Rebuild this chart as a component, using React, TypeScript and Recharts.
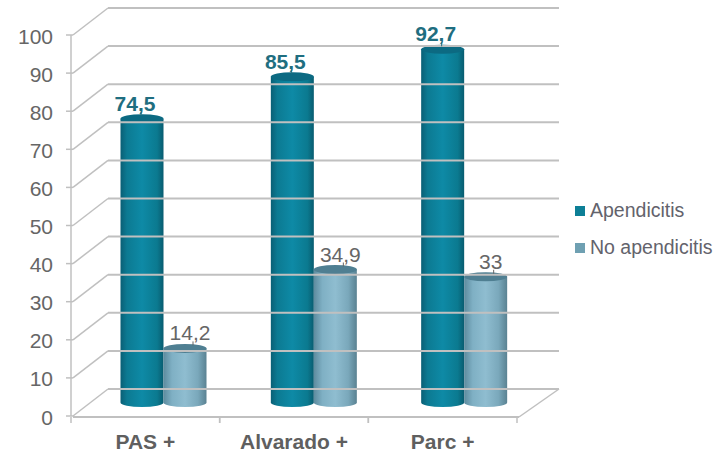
import { BarChart, Bar, XAxis, YAxis, LabelList, Legend } from 'recharts'

const categories = ['PAS +', 'Alvarado +', 'Parc +']
const apendicitis = [74.5, 85.5, 92.7]
const noApendicitis = [14.2, 34.9, 33]
const yTicks = [0, 10, 20, 30, 40, 50, 60, 70, 80, 90, 100]

const chartData = categories.map((name, i) => ({
  name,
  apendicitis: apendicitis[i],
  noApendicitis: noApendicitis[i],
}))

const WIDTH = 718
const HEIGHT = 452
const FONT = '"Liberation Sans", Arial, sans-serif'
const GRID = '#c0c0c0'
const LEGEND_WIDTH = 143

// Fake 3D box: how far the back wall sits from the front plane
const DEPTH_X = 35
const DEPTH_Y = 27
const WALL_WIDTH = 451
const FRONT_WIDTH = 446
const AXIS_X = 71

function YTick({ x, y, payload }: any) {
  const left = x + 10
  const isFloor = payload.value === 0
  return (
    <g>
      <line x1={left - 7} x2={left} y1={y} y2={y} stroke={GRID} strokeWidth={1.5} />
      <line x1={left} x2={left + DEPTH_X} y1={y} y2={y - DEPTH_Y} stroke={GRID} strokeWidth={1.5} />
      <line
        x1={left + DEPTH_X}
        x2={left + DEPTH_X + WALL_WIDTH}
        y1={y - DEPTH_Y}
        y2={y - DEPTH_Y}
        stroke={GRID}
        strokeWidth={2}
      />
      {isFloor && (
        <g>
          <line x1={left} x2={left + FRONT_WIDTH} y1={y + 1} y2={y + 1} stroke={GRID} strokeWidth={2} />
          <line
            x1={left + FRONT_WIDTH}
            x2={left + DEPTH_X + WALL_WIDTH}
            y1={y + 1}
            y2={y - DEPTH_Y}
            stroke={GRID}
            strokeWidth={1.5}
          />
        </g>
      )}
      <text
        x={x - 10}
        y={y + 1}
        textAnchor="end"
        dominantBaseline="central"
        fontFamily={FONT}
        fontSize={21}
        fill="#666666"
      >
        {payload.value}
      </text>
    </g>
  )
}

function XTick({ x, y, payload }: any) {
  // Category centres sit on the wider back plane, so pull them onto the front edge
  const cx = AXIS_X + (x - AXIS_X) * (FRONT_WIDTH / WALL_WIDTH)
  const half = FRONT_WIDTH / categories.length / 2
  return (
    <g>
      <line x1={cx - half} x2={cx - half} y1={y - 7} y2={y - 1} stroke={GRID} strokeWidth={1.5} />
      <line x1={cx + half} x2={cx + half} y1={y - 7} y2={y - 1} stroke={GRID} strokeWidth={1.5} />
      <text x={cx} y={y + 25} textAnchor="middle" fontFamily={FONT} fontSize={21} fontWeight={700} fill="#5f5f5f">
        {payload.value}
      </text>
    </g>
  )
}

function Cylinder({ x, y, width, height, fill, cap }: any) {
  const rx = width / 2
  const ry = 4.5
  const left = x + DEPTH_X / 2
  const top = y - DEPTH_Y / 2
  const bottom = top + height
  return (
    <g>
      <path
        d={`M${left},${top} L${left},${bottom} A${rx},${ry} 0 0 0 ${left + width},${bottom} L${left + width},${top} Z`}
        fill={fill}
      />
      <ellipse cx={left + rx} cy={top} rx={rx} ry={ry} fill={cap} />
    </g>
  )
}

const valueLabel = (color: string, bold: boolean, dx: number, leaderDx: number) =>
  function ValueLabel({ x, y, width, value }: any) {
    const cx = x + DEPTH_X / 2 + width / 2
    const top = y - DEPTH_Y / 2
    return (
      <g>
        <line x1={cx + leaderDx} x2={cx + leaderDx} y1={top - 7} y2={top - 3} stroke={color} strokeWidth={1} />
        <text
          x={cx + dx}
          y={top - 8}
          textAnchor="middle"
          fontFamily={FONT}
          fontSize={21}
          fontWeight={bold ? 700 : 400}
          fill={color}
        >
          {String(value).replace('.', ',')}
        </text>
      </g>
    )
  }

function LegendBox() {
  const items = [
    { label: 'Apendicitis', color: '#0d7f96' },
    { label: 'No apendicitis', color: '#6fa0b2' },
  ]
  return (
    <div style={{ fontFamily: FONT, fontSize: 19.5, color: '#63636c' }}>
      {items.map((item) => (
        <div key={item.label} style={{ display: 'flex', alignItems: 'center', height: 37, whiteSpace: 'nowrap' }}>
          <span style={{ width: 10, height: 10, background: item.color, marginRight: 5 }} />
          {item.label}
        </div>
      ))}
    </div>
  )
}

export default function App() {
  return (
    <div style={{ position: 'absolute', left: 0, top: 0, width: WIDTH, height: HEIGHT, background: '#fff' }}>
      <BarChart
        width={WIDTH}
        height={HEIGHT}
        data={chartData}
        margin={{ top: 35, right: 196 - LEGEND_WIDTH, bottom: 0, left: 0 }}
        barSize={43}
        barGap={0}
      >
        <defs>
          <linearGradient id="tealBar" x1="0" x2="1" y1="0" y2="0">
            <stop offset="0%" stopColor="#0a5f75" />
            <stop offset="15%" stopColor="#0c7a92" />
            <stop offset="50%" stopColor="#0e8aa6" />
            <stop offset="85%" stopColor="#0b7a90" />
            <stop offset="100%" stopColor="#095c70" />
          </linearGradient>
          <linearGradient id="lightBar" x1="0" x2="1" y1="0" y2="0">
            <stop offset="0%" stopColor="#5e8b9e" />
            <stop offset="20%" stopColor="#7fb0c4" />
            <stop offset="50%" stopColor="#8fbdd0" />
            <stop offset="80%" stopColor="#7aa8bb" />
            <stop offset="100%" stopColor="#5a8292" />
          </linearGradient>
        </defs>
        <YAxis
          width={AXIS_X}
          domain={[0, 100]}
          ticks={yTicks}
          interval={0}
          tickLine={false}
          axisLine={{ stroke: GRID, strokeWidth: 1.5 }}
          tick={<YTick />}
        />
        <XAxis
          dataKey="name"
          height={36}
          tickLine={false}
          axisLine={false}
          tick={<XTick />}
          interval={0}
        />
        <Legend
          layout="vertical"
          verticalAlign="top"
          align="right"
          wrapperStyle={{ left: 575, top: 192, width: LEGEND_WIDTH }}
          content={<LegendBox />}
        />
        <Bar
          dataKey="apendicitis"
          fill="url(#tealBar)"
          isAnimationActive={false}
          shape={<Cylinder cap="#0c6a82" />}
        >
          <LabelList dataKey="apendicitis" content={valueLabel('#1f6e80', true, -7, -1)} />
        </Bar>
        <Bar
          dataKey="noApendicitis"
          fill="url(#lightBar)"
          isAnimationActive={false}
          shape={<Cylinder cap="#4f7f92" />}
        >
          <LabelList dataKey="noApendicitis" content={valueLabel('#666666', false, 5, 8)} />
        </Bar>
      </BarChart>
    </div>
  )
}
